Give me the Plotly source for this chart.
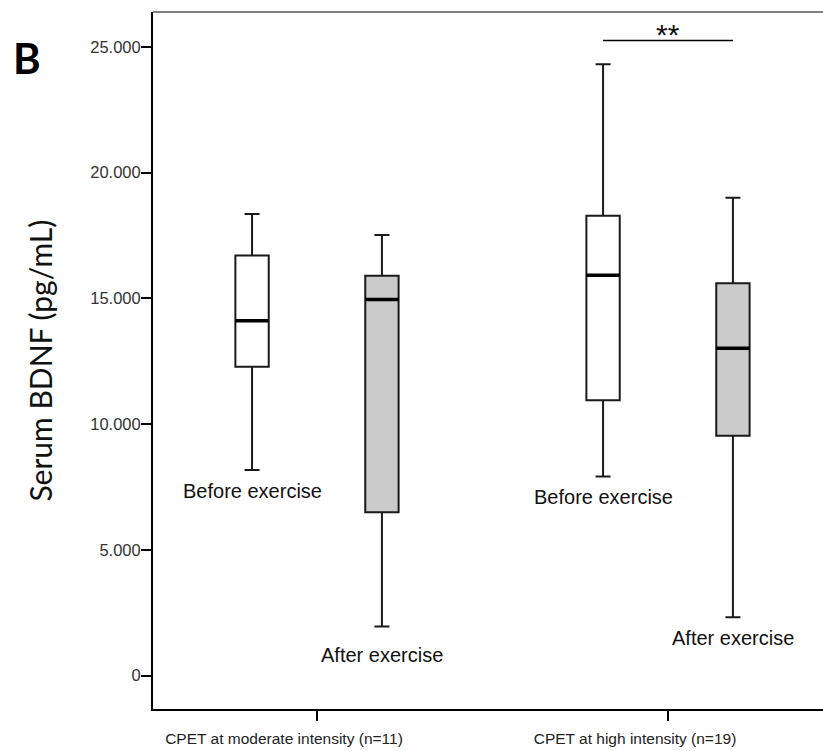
import plotly.graph_objects as go

# ---------------- data ----------------
groups = ["CPET at moderate intensity (n=11)", "CPET at high intensity (n=19)"]
conditions = ["Before exercise", "After exercise"]

before_low = [8180, 7920]
before_q1 = [12280, 10950]
before_median = [14110, 15920]
before_q3 = [16700, 18280]
before_high = [18350, 24300]

after_low = [1960, 2320]
after_q1 = [6500, 9540]
after_median = [14950, 13020]
after_q3 = [15900, 15600]
after_high = [17520, 19000]

y_tickvals = [0, 5000, 10000, 15000, 20000, 25000]
y_ticktext = ["0", "5.000", "10.000", "15.000", "20.000", "25.000"]
y_title = "Serum BDNF (pg/mL)"
panel_label = "B"
significance_text = "**"
significant_group = 1
significance_y = 25250

# ---------------- styling ----------------
OFFSET = 0.185
BOX_W = 0.095
FONT = "Liberation Sans, Arial, sans-serif"
group_pos = list(range(len(groups)))
label_shift = [[-8, -8], [-16, -8]]  # per condition, per group (px)

series = [
    dict(name=conditions[0], low=before_low, q1=before_q1, med=before_median,
         q3=before_q3, high=before_high, fill="#ffffff", off=-OFFSET),
    dict(name=conditions[1], low=after_low, q1=after_q1, med=after_median,
         q3=after_q3, high=after_high, fill="#cbcbcb", off=OFFSET),
]

fig = go.Figure()
for si, s in enumerate(series):
    xs = [g + s["off"] for g in group_pos]
    fig.add_trace(go.Box(
        x=xs, q1=s["q1"], median=s["med"], q3=s["q3"],
        lowerfence=s["low"], upperfence=s["high"],
        width=BOX_W, fillcolor=s["fill"],
        line=dict(color="#1a1a1a", width=2),
        whiskerwidth=0.45, boxpoints=False,
        showlegend=False, hoverinfo="skip", name=s["name"],
    ))
    # thicker median line
    mx, my = [], []
    for x, m in zip(xs, s["med"]):
        mx += [x - BOX_W / 2, x + BOX_W / 2, None]
        my += [m, m, None]
    fig.add_trace(go.Scatter(x=mx, y=my, mode="lines",
                             line=dict(color="#000000", width=3.5),
                             showlegend=False, hoverinfo="skip"))
    # condition labels under the lower whisker
    for gi, (x, lo) in enumerate(zip(xs, s["low"])):
        fig.add_annotation(x=x, y=lo, text=s["name"], showarrow=False,
                           yanchor="top", yshift=label_shift[si][gi],
                           font=dict(family=FONT, size=20, color="#111111"))

# significance bar
gx = group_pos[significant_group]
fig.add_shape(type="line", xref="x", yref="y",
              x0=gx - OFFSET, x1=gx + OFFSET, y0=significance_y, y1=significance_y,
              line=dict(color="#000000", width=1.5))
fig.add_annotation(x=gx, y=significance_y, text=significance_text, showarrow=False,
                   yanchor="bottom", yshift=-13,
                   font=dict(family=FONT, size=30, color="#111111"))

# top border
fig.add_shape(type="line", xref="paper", yref="paper", x0=0, x1=1, y0=1, y1=1,
              line=dict(color="#808080", width=2))

# y title and panel label
fig.add_annotation(xref="paper", yref="paper", x=-0.170, y=0.5, text=y_title,
                   textangle=-90, showarrow=False, xanchor="center", yanchor="middle",
                   font=dict(family="Lato, Open Sans, sans-serif", size=30, color="#111111"))
fig.add_annotation(xref="paper", yref="paper", x=-0.188, y=0.934,
                   text="<b>" + panel_label + "</b>", showarrow=False,
                   xanchor="center", yanchor="middle",
                   font=dict(family="Lato, Open Sans, sans-serif", size=42, color="#000000"))

fig.update_xaxes(range=[-0.4672, 1.4416], tickvals=group_pos, ticktext=groups,
                 ticks="outside", ticklen=10, tickwidth=2, tickcolor="#000000",
                 showline=True, linecolor="#000000", linewidth=2,
                 showgrid=False, zeroline=False, ticklabelshift=-33, ticklabelstandoff=4,
                 tickfont=dict(family=FONT, size=15.5, color="#222222"))
fig.update_yaxes(range=[-1323, 26380], tickvals=y_tickvals, ticktext=y_ticktext,
                 ticks="outside", ticklen=10, tickwidth=2, tickcolor="#000000",
                 showline=True, linecolor="#000000", linewidth=2,
                 showgrid=False, zeroline=False, ticklabelstandoff=-3,
                 tickfont=dict(family=FONT, size=16.5, color="#333333"))
fig.update_layout(width=823, height=751, margin=dict(l=153, r=0, t=12, b=42),
                  plot_bgcolor="#ffffff", paper_bgcolor="#ffffff")

fig.write_html("out.html", config={"displayModeBar": False},
               post_script="document.body.style.margin='0px';")
